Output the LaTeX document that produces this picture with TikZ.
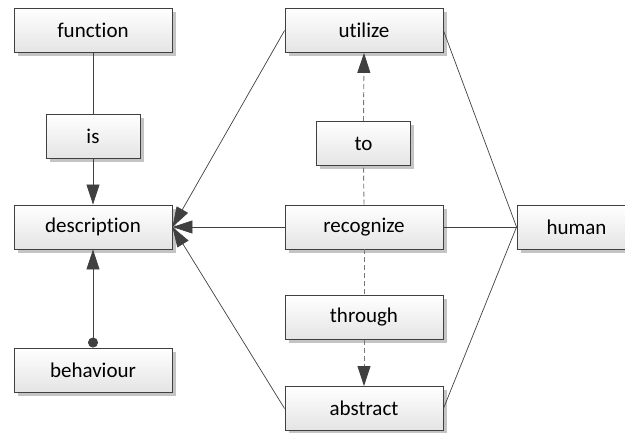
\documentclass[tikz,border=0pt]{standalone}
\usepackage{fontspec}
\setmainfont[Ligatures=NoCommon]{Carlito}
\usetikzlibrary{arrows.meta,shadows}
\definecolor{edgegray}{HTML}{404040}
\definecolor{dashgray}{HTML}{787878}
\definecolor{shadowgray}{HTML}{C4C4C4}
\definecolor{boxbottom}{HTML}{E4E4E4}
\tikzset{
  box/.style={draw=edgegray, line width=0.9pt, rectangle, minimum height=44pt,
    inner sep=0pt, top color=white, bottom color=boxbottom,
    font=\fontsize{21}{25}\selectfont, text=black,
    copy shadow={shadow xshift=3.5pt, shadow yshift=-3.5pt, fill=shadowgray, draw=none}},
  wide/.style={box, minimum width=158pt},
  narrow/.style={box, minimum width=94pt},
  link/.style={draw=edgegray, line width=0.7pt},
  tri/.style={link, -{Triangle[length=20pt, width=13pt, fill=edgegray]}},
  dotted link/.style={link, {Circle[length=10pt, fill=edgegray]}-{Triangle[length=20pt, width=13pt, fill=edgegray]}},
  dlink/.style={draw=dashgray, line width=0.9pt, dash pattern=on 5pt off 3pt},
  dtri/.style={dlink, -{Triangle[length=20pt, width=13pt, fill=edgegray, color=edgegray]}},
}
\begin{document}
\begin{tikzpicture}[x=1pt, y=-1pt]
\useasboundingbox (0,0) rectangle (625,432);
\clip (0,0) rectangle (625,432);

% left column
\node[wide]   (function)    at (93,30.5)  {function};
\node[narrow] (is)          at (93,136.5) {is};
\node[wide]   (description) at (93,227)   {description};
\node[wide]   (behaviour)   at (93,370)   {behaviour};

% middle column
\node[wide]   (utilize)   at (364,30.5)  {utilize};
\node[narrow] (to)        at (363.5,143.5) {to};
\node[wide]   (recognize) at (364,227)   {recognize};
\node[wide]   (through)   at (364,317.5) {through};
\node[wide]   (abstract)  at (364,408.5) {abstract};

% right column
\node[box, minimum width=119pt] (human) at (576.5,227) {human};

% left column connectors
\draw[link] (function.south) -- (is.north);
\draw[tri]  (is.south) -- (description.north);
\draw[dotted link] (behaviour.north) -- (description.south);

% middle column into description
\draw[tri] (utilize.west)   -- (description.east);
\draw[tri] (recognize.west) -- (description.east);
\draw[tri] (abstract.west)  -- (description.east);

% middle column to human
\draw[link] (utilize.east)   -- (human.west);
\draw[link] (recognize.east) -- (human.west);
\draw[link] (abstract.east)  -- (human.west);

% dashed chains
\draw[dlink] (recognize.north) -- (to.south);
\draw[dtri]  (to.north) -- (utilize.south);
\draw[dlink] (recognize.south) -- (through.north);
\draw[dtri]  (through.south) -- (abstract.north);
\end{tikzpicture}
\end{document}
